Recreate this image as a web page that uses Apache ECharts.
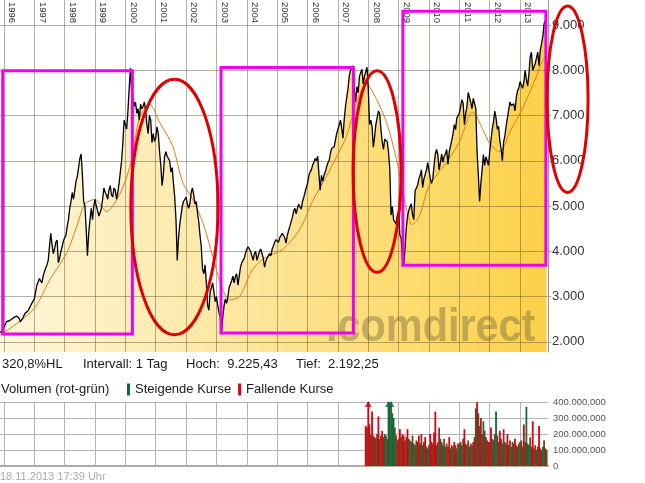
<!DOCTYPE html>
<html><head><meta charset="utf-8">
<script src="https://cdn.jsdelivr.net/npm/echarts@6/dist/echarts.min.js"></script>
<style>html,body{margin:0;padding:0;background:#fff}#c{width:645px;height:483px}</style>
</head><body><div id="c"></div>
<script>
// ---- DAX closes, semi-monthly slots (24 per year); 1995 starts at slot 21, 2013 ends at slot 21
const dax1995 = [2200, 2240, 2260];
const dax1996 = [2290,2380,2450,2420,2460,2490,2500,2530,2540,2560,2570,2550,2520,2440,2480,2530,2590,2640,2660,2680,2740,2790,2850,2880];
const dax1997 = [2950,3100,3250,3320,3400,3380,3300,3450,3550,3630,3700,3800,4100,4400,4150,3950,4050,4200,4250,3750,3850,4000,4100,4230];
const dax1998 = [4300,4350,4550,4700,4950,5100,5300,5150,5350,5550,5650,5850,6050,6150,5700,5100,5000,4500,3900,4400,4700,4950,4700,5000];
const dax1999 = [5150,5000,4900,4780,4850,4950,5150,5400,5300,5250,5150,5350,5450,5250,5200,5400,5350,5150,5300,5500,5750,6000,6400,6900];
const dax2000 = [6800,6700,7100,7600,8050,7500,7400,7200,7300,7050,7150,6900,7250,7150,7200,7300,7100,6800,6600,7000,6900,6400,6600,6430];
const dax2001 = [6500,6750,6600,6200,5900,5450,5700,6100,6200,6100,6050,6000,5750,5850,5500,5200,4700,3800,4300,4600,4800,5000,5100,5150];
const dax2002 = [5200,5050,4950,5050,5300,5400,5250,5050,5100,4850,4650,4350,4100,3600,3500,3700,3300,2800,2700,3100,3200,3300,3100,2890];
const dax2003 = [3000,2800,2650,2550,2203,2550,2800,2950,2850,2980,3200,3220,3350,3450,3300,3450,3500,3250,3450,3650,3750,3750,3850,3965];
const dax2004 = [4050,4100,4050,4000,3900,3800,3950,4000,3800,3900,4000,4050,3950,3850,3650,3780,3850,3890,3950,3900,4050,4120,4200,4256];
const dax2005 = [4250,4200,4300,4350,4400,4350,4300,4180,4350,4460,4550,4590,4750,4890,4950,4830,4950,5040,5050,4930,5100,5190,5300,5410];
const dax2006 = [5500,5670,5750,5800,5900,5970,6050,6000,6100,5700,5350,5680,5550,5680,5750,5860,5950,6000,6150,6270,6300,6310,6450,6600];
const dax2007 = [6700,6790,6900,6720,6500,6920,7200,7410,7600,7880,8000,8000,8100,7580,7300,7640,7500,7860,7950,8020,7700,7870,7900,8067];
const dax2008 = [7600,6800,6900,6750,6300,6530,6800,6950,7100,7050,6700,6420,6250,6480,6500,6420,6200,5830,4800,4990,4700,4670,4600,4810];
const dax2009 = [4900,4350,4300,3840,3666,4050,4500,4770,4900,4940,5050,4810,4700,5330,5400,5460,5600,5680,5800,5410,5600,5630,5800,5960];
const dax2010 = [6000,5610,5500,5600,5900,6150,6250,6140,5800,5960,6150,5970,6100,6150,6250,5920,6200,6230,6450,6600,6800,6690,6950,6910];
const dax2011 = [7050,7080,7350,7270,6800,7040,7200,7510,7500,7290,7150,7380,7400,7160,6200,5700,5100,5500,5800,6140,5900,6090,6000,5900];
const dax2012 = [6200,6460,6700,6860,7100,6950,6700,6760,6450,6260,6000,6420,6550,6770,6950,6970,7300,7220,7250,7260,7100,7400,7550,7610];
const dax2013 = [7750,7780,7600,7740,8000,7800,7650,7910,8300,8400,8000,7960,8150,8280,8400,8100,8450,8590,8750,9030,9100,9225];

// ---- 200-day moving average (orange)
const maDates  = [1995.88,1996.95,1997.51,1998.07,1998.40,1998.66,1998.99,1999.39,1999.72,1999.98,2000.21,2000.47,2000.80,2001.13,2001.56,2001.89,2002.22,2002.55,2002.88,2003.17,2003.43,2003.76,2004.19,2004.65,2005.18,2005.74,2006.16,2006.72,2007.28,2007.61,2007.94,2008.27,2008.60,2008.93,2009.19,2009.45,2009.68,2010.01,2010.57,2011.00,2011.43,2011.99,2012.32,2012.71,2013.07,2013.53,2013.73,2013.88];
const maValues = [2150,2700,3370,3970,4550,5035,5145,4880,5145,5520,6030,6960,7250,6850,6320,5520,5145,4640,3880,3220,2930,3000,3600,3880,4040,4480,5100,5780,6540,7290,7690,7360,6850,6030,5145,4590,4770,5450,5960,6410,7070,6400,6200,6700,7140,7850,8200,8350];

// ---- Volume (millions), semi-monthly slots; g = steigend, r = fallend, b = gemischt
const vol2007 = [250,240];            const dir2007 = 'rb';
const vol2008 = [450,260,200,340,190,180,175,200,310,170,190,220,180,200,190,170,460,390,450,330,300,240,190,160];
const dir2008 = 'rbbrbbbbrbbrbgbbgbgggbbb';
const vol2009 = [170,230,180,200,190,160,180,230,170,160,150,190,140,130,160,150,190,140,200,130,150,180,120,110];
const dir2009 = 'brbbrbbrbgbbbgbbrbbgbrbg';
const vol2010 = [130,200,150,140,210,340,130,150,240,170,150,130,170,120,140,120,180,110,130,120,150,130,110,140];
const dir2010 = 'brbbrrgbbbbgbbbbrgbbrbgb';
const vol2011 = [140,150,130,170,230,140,130,160,120,140,130,150,180,360,398,330,250,300,200,280,220,180,160,150];
const dir2011 = 'bbgbrbbbgbbrbgrgbrbgbrbb';
const vol2012 = [150,240,170,160,200,340,190,150,220,170,140,230,150,140,200,130,160,120,150,140,170,130,120,140];
const dir2012 = 'brbgbgbbrbgbbbrbbgbbrbgb';
const vol2013 = [150,160,120,260,150,370,140,130,180,120,280,110,130,100,120,250,110,100,120,160,110,100];
const dir2013 = 'bbgrbgbgbbrbbgbrbbgbbb';

// ---- tick labels
const yearTicks = [1996,1997,1998,1999,2000,2001,2002,2003,2004,2005,2006,2007,2008,2009,2010,2011,2012,2013];
const priceTicks = [2000,3000,4000,5000,6000,7000,8000,9000];
const VOL_MAX = 400;

// ---- texts
const infoTexts = ['320,8%HL', 'Intervall: 1 Tag', 'Hoch:  9.225,43', 'Tief:  2.192,25'];
const volTitle = 'Volumen (rot-grün)';
const stampText = '18.11.2013 17:39 Uhr';

// ---- annotation boxes in data coordinates [x1, x2, yTop, yBottom]
const rectNotes = [[1995.96, 2000.23, 7988, 2171], [2003.15, 2007.51, 8063, 2193], [2009.14, 2013.85, 9304, 3690]];
const ellipseNotes = [[2000.18, 2003.05, 7804, 2155], [2007.50, 2009.08, 7988, 3535], [2013.89, 2015.24, 9421, 5301]];

const FONT = '"Liberation Sans", Arial, sans-serif';
const fmtDots = v => String(Math.round(v)).replace(/\B(?=(\d{3})+(?!\d))/g, '.');

function slotSeries(list) {
  const out = [];
  list.forEach(([yr, arr, s]) => arr.forEach((v, i) => out.push([yr + (s + i) / 24, v])));
  return out;
}
const closeData = slotSeries([[1995,dax1995,21],[1996,dax1996,0],[1997,dax1997,0],[1998,dax1998,0],[1999,dax1999,0],
  [2000,dax2000,0],[2001,dax2001,0],[2002,dax2002,0],[2003,dax2003,0],[2004,dax2004,0],[2005,dax2005,0],[2006,dax2006,0],
  [2007,dax2007,0],[2008,dax2008,0],[2009,dax2009,0],[2010,dax2010,0],[2011,dax2011,0],[2012,dax2012,0],[2013,dax2013,0]]);
const maData = maDates.map((d, i) => [d, maValues[i]]);

const COL = {g: '#0b6e3a', r: '#dd0010', b: '#7a3b22'};
const upData = [], downData = [], mixData = [], arrowData = [];
[[2007,vol2007,dir2007,22],[2008,vol2008,dir2008,0],[2009,vol2009,dir2009,0],[2010,vol2010,dir2010,0],
 [2011,vol2011,dir2011,0],[2012,vol2012,dir2012,0],[2013,vol2013,dir2013,0]].forEach(([yr, vals, dirs, s]) => {
  vals.forEach((v, i) => {
    const x = yr + (s + i) / 24, d = dirs[i];
    (d === 'g' ? upData : d === 'r' ? downData : mixData).push([x, v]);
    if (v > VOL_MAX) arrowData.push({value: [x, VOL_MAX], itemStyle: {color: COL[d]}});
  });
});

const X_MIN = 1995.87, X_MAX = 2013.92;
const gridLineCol = 'rgba(70,60,30,0.40)';

const chart = echarts.init(document.getElementById('c'), null, {renderer: 'canvas'});
chart.setOption({
  animation: false,
  backgroundColor: '#fff',
  textStyle: {fontFamily: FONT},
  grid: [
    {left: 0, right: 97, top: 0, height: 352, containLabel: false, outerBoundsMode: 'none'},
    {left: 0, right: 97, top: 402, height: 64, containLabel: false, outerBoundsMode: 'none'}
  ],
  legend: {
    data: ['Steigende Kurse', 'Fallende Kurse'], left: 127, top: 383, icon: 'rect',
    itemWidth: 3, itemHeight: 12, itemGap: 7, selectedMode: false, padding: 0,
    textStyle: {fontSize: 13, color: '#1a1a1a', fontFamily: FONT}
  },
  xAxis: [
    {type: 'value', gridIndex: 0, min: X_MIN, max: X_MAX, position: 'top', z: 3,
     axisLine: {show: false, onZero: false}, axisTick: {show: false, customValues: yearTicks},
     axisLabel: {show: true, inside: true, rotate: 90, customValues: yearTicks.map(y => y + 0.26),
       formatter: v => String(Math.round(v - 0.26)), fontSize: 9.5, color: '#333', margin: 2,
       align: 'left', verticalAlign: 'middle', fontFamily: FONT},
     splitLine: {show: true, lineStyle: {color: gridLineCol, width: 1}}},
    {type: 'value', gridIndex: 1, min: X_MIN, max: X_MAX, position: 'bottom',
     axisLine: {show: true, onZero: false, lineStyle: {color: '#ababab', width: 2}},
     axisTick: {show: false, customValues: yearTicks}, axisLabel: {show: false},
     splitLine: {show: true, lineStyle: {color: '#b4b4b4', width: 1}}}
  ],
  yAxis: [
    {type: 'value', gridIndex: 0, position: 'right', min: 1775, max: 9553, z: 3,
     axisLine: {show: true, lineStyle: {color: '#999'}},
     axisTick: {show: true, length: 3, customValues: priceTicks, lineStyle: {color: '#999'}},
     axisLabel: {customValues: priceTicks, formatter: fmtDots, fontSize: 13, color: '#333', margin: 4, fontFamily: FONT},
     splitLine: {show: true, lineStyle: {color: gridLineCol, width: 1}}},
    {type: 'value', gridIndex: 1, position: 'right', min: 0, max: VOL_MAX, interval: 100,
     axisLine: {show: false}, axisTick: {show: false},
     axisLabel: {formatter: v => v === 0 ? '0' : fmtDots(v * 1e6), fontSize: 9.5, color: '#555', margin: 5, fontFamily: FONT},
     splitLine: {show: true, lineStyle: {color: '#b4b4b4', width: 1}}}
  ],
  series: [
    {name: 'Fläche', type: 'line', xAxisIndex: 0, yAxisIndex: 0, data: closeData, z: 1, silent: true,
     showSymbol: false, symbol: 'none', lineStyle: {width: 0},
     areaStyle: {opacity: 1, color: new echarts.graphic.LinearGradient(0, 0, 1, 0, [
       {offset: 0, color: '#fef6da'}, {offset: 0.4, color: '#fde8a4'}, {offset: 0.75, color: '#fddb6e'}, {offset: 1, color: '#fbd149'}])}},
    {name: 'GD200', type: 'line', xAxisIndex: 0, yAxisIndex: 0, data: maData, z: 4, smooth: 0.3,
     showSymbol: false, symbol: 'none', lineStyle: {width: 1, color: '#e57a17'}},
    {name: 'DAX', type: 'line', xAxisIndex: 0, yAxisIndex: 0, data: closeData, z: 5,
     showSymbol: false, symbol: 'none', lineStyle: {width: 1.3, color: '#000'}},
    {name: 'Gemischt', type: 'bar', xAxisIndex: 1, yAxisIndex: 1, data: mixData, barWidth: 1.8, barGap: '-100%',
     itemStyle: {color: COL.b}},
    {name: 'Steigende Kurse', type: 'bar', xAxisIndex: 1, yAxisIndex: 1, data: upData, barWidth: 1.8, barGap: '-100%',
     itemStyle: {color: COL.g}},
    {name: 'Fallende Kurse', type: 'bar', xAxisIndex: 1, yAxisIndex: 1, data: downData, barWidth: 1.8, barGap: '-100%',
     itemStyle: {color: COL.r}},
    {name: 'Pfeile', type: 'scatter', xAxisIndex: 1, yAxisIndex: 1, data: arrowData, symbol: 'triangle',
     symbolSize: [7, 6], symbolOffset: [0, 2], clip: false, z: 6, silent: true}
  ]
});

// ---- texts + annotations
const els = [];
const infoX = [2, 83, 186, 296];
infoTexts.forEach((t, i) => els.push({type: 'text', x: infoX[i], y: 364, z: 20,
  style: {text: t, font: '13px ' + FONT, fill: '#1a1a1a', align: 'left', verticalAlign: 'middle'}}));
els.push({type: 'text', x: 1, y: 389, z: 20, style: {text: volTitle, font: '13px ' + FONT, fill: '#1a1a1a', align: 'left', verticalAlign: 'middle'}});
els.push({type: 'text', x: 0, y: 477, z: 20, style: {text: stampText, font: '11px ' + FONT, fill: '#aaaaaa', align: 'left', verticalAlign: 'middle'}});
els.push({type: 'text', x: 326, y: 351, z: 2, scaleX: 0.9, silent: true,
  style: {text: '.comdirect', font: 'bold 46px ' + FONT, fill: 'rgba(105,95,55,0.40)', align: 'left', verticalAlign: 'bottom'}});

const px = (x, y) => chart.convertToPixel({gridIndex: 0}, [x, y]);
rectNotes.forEach(([x1, x2, yt, yb]) => {
  const a = px(x1, yt), b = px(x2, yb);
  els.push({type: 'rect', z: 30, shape: {x: a[0], y: a[1], width: b[0] - a[0], height: b[1] - a[1]},
    style: {fill: 'none', stroke: '#f000f0', lineWidth: 3}});
});
ellipseNotes.forEach(([x1, x2, yt, yb]) => {
  const a = px(x1, yt), b = px(x2, yb);
  els.push({type: 'ellipse', z: 30, shape: {cx: (a[0] + b[0]) / 2, cy: (a[1] + b[1]) / 2, rx: (b[0] - a[0]) / 2, ry: (b[1] - a[1]) / 2},
    style: {fill: 'none', stroke: '#e00000', lineWidth: 3}});
});
chart.setOption({graphic: {elements: els}});
</script>
</body></html>
